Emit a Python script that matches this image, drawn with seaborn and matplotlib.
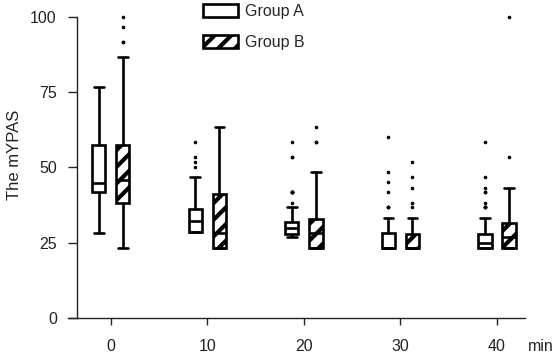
import pandas as pd
import matplotlib
matplotlib.use("Agg")
import matplotlib.pyplot as plt
from matplotlib.patches import Patch
import seaborn as sns

times = [0, 10, 20, 30, 40]
groups = ["Group A", "Group B"]

# box summaries (mYPAS score per time point)
a_low = [28.3, 28.6, 26.7, 23.3, 23.3]
a_q1 = [41.9, 28.6, 27.8, 23.3, 23.3]
a_med = [44.9, 32.3, 30.0, 23.3, 25.0]
a_q3 = [57.4, 36.2, 31.7, 28.3, 27.7]
a_high = [76.7, 46.7, 36.7, 33.3, 33.3]
a_out = [
    [],
    [50.0, 51.7, 53.3, 58.3],
    [38.3, 41.7, 41.7, 41.7, 41.7, 41.7, 41.7, 53.3, 53.3, 58.3],
    [36.7, 36.7, 36.7, 41.7, 45.0, 48.3, 60.0],
    [36.7, 36.7, 36.7, 36.7, 38.3, 41.7, 41.7, 43.3, 46.7, 58.3],
]

b_low = [23.3, 23.3, 23.3, 23.3, 23.3]
b_q1 = [38.3, 23.3, 23.3, 23.3, 23.3]
b_med = [45.9, 28.3, 28.3, 23.3, 26.7]
b_q3 = [57.4, 41.2, 32.9, 27.9, 31.6]
b_high = [86.7, 63.3, 48.3, 33.3, 43.3]
b_out = [
    [91.7, 91.7, 96.7, 100.0],
    [],
    [58.3, 58.3, 63.3],
    [36.7, 38.3, 43.3, 46.7, 51.7],
    [53.3, 100.0],
]

# rebuild observations so that the quartiles land on the read values
rows = []
summaries = {
    "Group A": (a_low, a_q1, a_med, a_q3, a_high, a_out),
    "Group B": (b_low, b_q1, b_med, b_q3, b_high, b_out),
}
for grp, (lo, q1, med, q3, hi, out) in summaries.items():
    for i, t in enumerate(times):
        vals = [lo[i]] + [q1[i]] * 12 + [med[i]] * 12 + [q3[i]] * 12 + [hi[i]] + out[i]
        for v in vals:
            rows.append({"time": t, "group": grp, "score": v})
df = pd.DataFrame(rows)

sns.set_style("ticks")
plt.rcParams["font.family"] = ["Liberation Sans", "DejaVu Sans"]
plt.rcParams["hatch.linewidth"] = 3.0

fig = plt.figure(figsize=(5.59, 3.57), dpi=100)
ax = fig.add_axes([0.1377, 0.110, 0.8014, 0.8423])

sns.boxplot(
    data=df, x="time", y="score", hue="group",
    order=times, hue_order=groups,
    palette={"Group A": "white", "Group B": "white"},
    linecolor="black", linewidth=1.9,
    width=0.5, gap=0.45, whis=1.63, dodge=True,
    flierprops=dict(marker="o", markersize=2.6, markerfacecolor="black",
                    markeredgecolor="black", markeredgewidth=0),
    capwidths=0.1,
    legend=False, ax=ax,
)

for p in ax.patches:
    cx = p.get_path().vertices[:, 0].mean()
    if cx - round(cx) > 0:
        p.set_hatch("//")
for ln in ax.lines:
    ln.set_clip_on(False)

ax.set_xlim(-0.35, 4.29)
ax.set_ylim(0, 100)
ax.set_yticks([0, 25, 50, 75, 100])
ax.tick_params(axis="y", length=6.5, width=1, pad=8, labelsize=11.5, colors="#222222")
ax.tick_params(axis="x", length=5, width=1, pad=10, labelsize=11.5, colors="#222222")
ax.set_xlabel("")
ax.set_ylabel("The mYPAS", fontsize=12, color="#222222")
ax.yaxis.set_label_coords(-0.123, 0.54)
sns.despine(ax=ax)
for s in ["left", "bottom"]:
    ax.spines[s].set_linewidth(1)
    ax.spines[s].set_color("#222222")
ax.spines["bottom"].set_bounds(-0.443, 4.29)

ax.text(1.007, -0.07, "min", transform=ax.transAxes, va="top", ha="left",
        fontsize=11.5, color="#222222")

handles = [
    Patch(facecolor="white", edgecolor="black", linewidth=1.9),
    Patch(facecolor="white", edgecolor="black", linewidth=1.9, hatch="//"),
]
fig.legend(handles, groups, loc="upper left", bbox_to_anchor=(203 / 559, 0.988),
           frameon=False, borderpad=0, borderaxespad=0, handlelength=2.2,
           handleheight=0.85, handletextpad=0.4, labelspacing=1.0, fontsize=11.5)

fig.savefig("out.png", dpi=100)
